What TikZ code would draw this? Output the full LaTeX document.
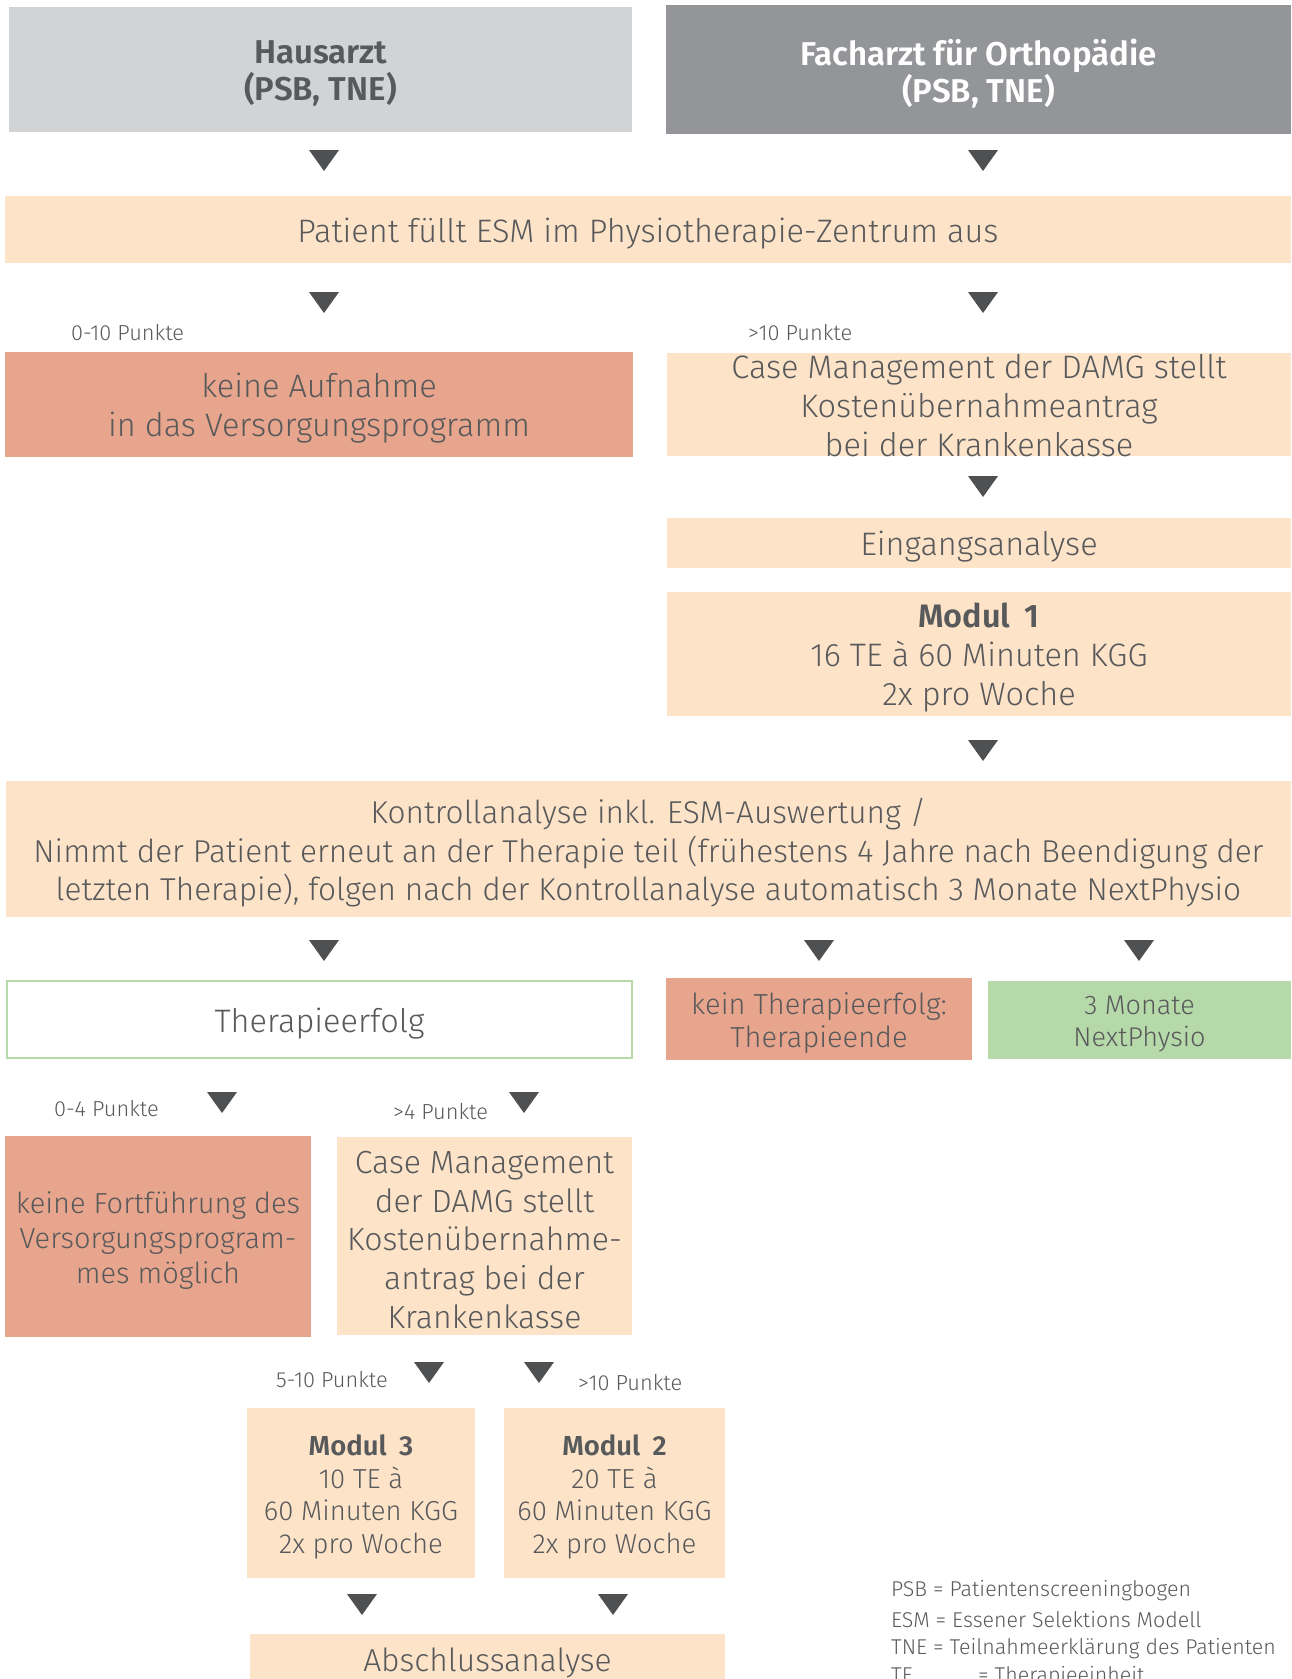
\documentclass[tikz,border=0pt]{standalone}
\usepackage{fontspec}
\setmainfont{Fira Sans}[UprightFont=* Light, BoldFont=* SemiBold]
\definecolor{txt}{HTML}{58595B}
\definecolor{grayL}{HTML}{D1D3D4}
\definecolor{grayD}{HTML}{939598}
\definecolor{peach}{HTML}{FDE3C8}
\definecolor{salmon}{HTML}{E8A58D}
\definecolor{green}{HTML}{B6D9AA}
\definecolor{arrc}{HTML}{4F5052}
\newcommand\tri[2]{\fill[arrc] (#1-15,#2) -- (#1+15,#2) -- (#1,#2+21) -- cycle;}
% #1 name, #2 style, #3 cx, #4 cy, #5 w, #6 h, #7 text
\newcommand\bx[7]{%
  \node[#2, minimum width=#5, minimum height=#6] (#1) at (#3,#4) {};
  \node[#2, fill=none, draw=none] (#1-t) at (#3,#4+4) {#7};}
\begin{document}
\begin{tikzpicture}[x=1pt,y=-1pt,
  box/.style={rectangle, inner sep=0pt, align=center, text=txt, font=\fontsize{32.5}{39}\selectfont},
  pbox/.style={box, fill=peach},
  sbox/.style={box, fill=salmon},
  hbox/.style={box, font=\bfseries\fontsize{33}{37.5}\selectfont},
  lbl/.style={anchor=west, inner sep=0pt, text=txt, font=\fontsize{21.8}{24}\selectfont},
  legend/.style={anchor=west, inner sep=0pt, text=txt, font=\fontsize{21.4}{24}\selectfont}]
\useasboundingbox (0,0) rectangle (1292,1679);
\clip (0,0) rectangle (1292,1679);
% headers
\bx{haus}{hbox, fill=grayL}{320.5}{69.5}{623}{125}{Hausarzt\\(PSB, TNE)}
\bx{fach}{hbox, fill=grayD, text=white}{978.5}{69.5}{625}{129}{Facharzt für Orthopädie\\(PSB, TNE)}
\tri{324}{150}\tri{983}{150}
\bx{pat}{pbox}{648}{229.5}{1286}{67}{Patient füllt ESM im Physiotherapie-Zentrum aus}
\tri{324}{292}\tri{983}{292}
\node[lbl] (l1) at (71,333) {0-10 Punkte};
\node[lbl] (l2) at (748,333) {>10 Punkte};
\bx{keinauf}{sbox}{319}{404.5}{628}{105}{keine Aufnahme\\in das Versorgungsprogramm}
\node[pbox, minimum width=624, minimum height=103] (case1) at (979,404.5) {};
\node[box] (case1t) at (979,406) {Case Management der DAMG stellt\\Kostenübernahmeantrag\\bei der Krankenkasse};
\tri{983}{476}
\bx{eing}{pbox}{979}{543}{624}{50}{Eingangsanalyse}
\bx{mod1}{pbox}{979}{654}{624}{124}{\textbf{Modul\hspace{0.45em}1}\\16 TE à 60 Minuten KGG\\2x pro Woche}
\tri{983}{740}
\bx{kontr}{pbox, font=\fontsize{31.6}{38.5}\selectfont}{648.5}{849}{1285}{136}{Kontrollanalyse inkl. ESM-Auswertung /\\Nimmt der Patient erneut an der Therapie teil (frühestens 4 Jahre nach Beendigung der\\letzten Therapie), folgen nach der Kontrollanalyse automatisch 3 Monate NextPhysio}
\tri{324}{940}\tri{819}{940}\tri{1139}{940}
\bx{erf}{box, draw=green, line width=2.2pt, fill=white}{319.5}{1019.5}{625}{77}{Therapieerfolg}
\bx{keinerf}{sbox, font=\fontsize{29}{33.5}\selectfont}{819}{1019}{306}{82}{kein Therapieerfolg:\\Therapieende}
\bx{next}{box, fill=green, font=\fontsize{27}{32}\selectfont}{1139.5}{1020}{303}{78}{3 Monate\\NextPhysio}
\tri{222}{1092}\tri{524}{1092}
\node[lbl] (l3) at (54,1109) {0-4 Punkte};
\node[lbl] (l4) at (393,1112) {>4 Punkte};
\bx{fort}{sbox, font=\fontsize{29}{35.3}\selectfont}{158}{1236.5}{306}{201}{keine Fortführung des\\Versorgungsprogram-\\mes möglich}
\bx{case2}{pbox, font=\fontsize{32}{38.8}\selectfont}{484.5}{1236}{295}{198}{Case Management\\der DAMG stellt\\Kostenübernahme-\\antrag bei der\\Krankenkasse}
\tri{429}{1362}\tri{539}{1362}
\node[lbl] (l5) at (276,1380) {5-10 Punkte};
\node[lbl] (l6) at (578,1383) {>10 Punkte};
\bx{mod3}{pbox, font=\fontsize{27.5}{32.5}\selectfont}{361}{1493}{228}{170}{\textbf{Modul\hspace{0.45em}3}\\10 TE à\\60 Minuten KGG\\2x pro Woche}
\bx{mod2}{pbox, font=\fontsize{27.5}{32.5}\selectfont}{614.5}{1493}{221}{170}{\textbf{Modul\hspace{0.45em}2}\\20 TE à\\60 Minuten KGG\\2x pro Woche}
\tri{362}{1594}\tri{613}{1594}
\node[pbox, minimum width=475, minimum height=54] (absch) at (487.5,1661) {};
\node[box, font=\fontsize{31.8}{38}\selectfont] (absch-t) at (487.5,1663) {Abschlussanalyse};
% legend
\node[legend] (g1) at (891,1591) {PSB = Patientenscreeningbogen};
\node[legend] (g2) at (891,1620) {ESM = Essener Selektions Modell};
\node[legend] (g3) at (891,1649) {TNE = Teilnahmeerklärung des Patienten};
\node[legend] (g4) at (891,1677) {\makebox[87pt][l]{TE}= Therapieeinheit};
\end{tikzpicture}
\end{document}
